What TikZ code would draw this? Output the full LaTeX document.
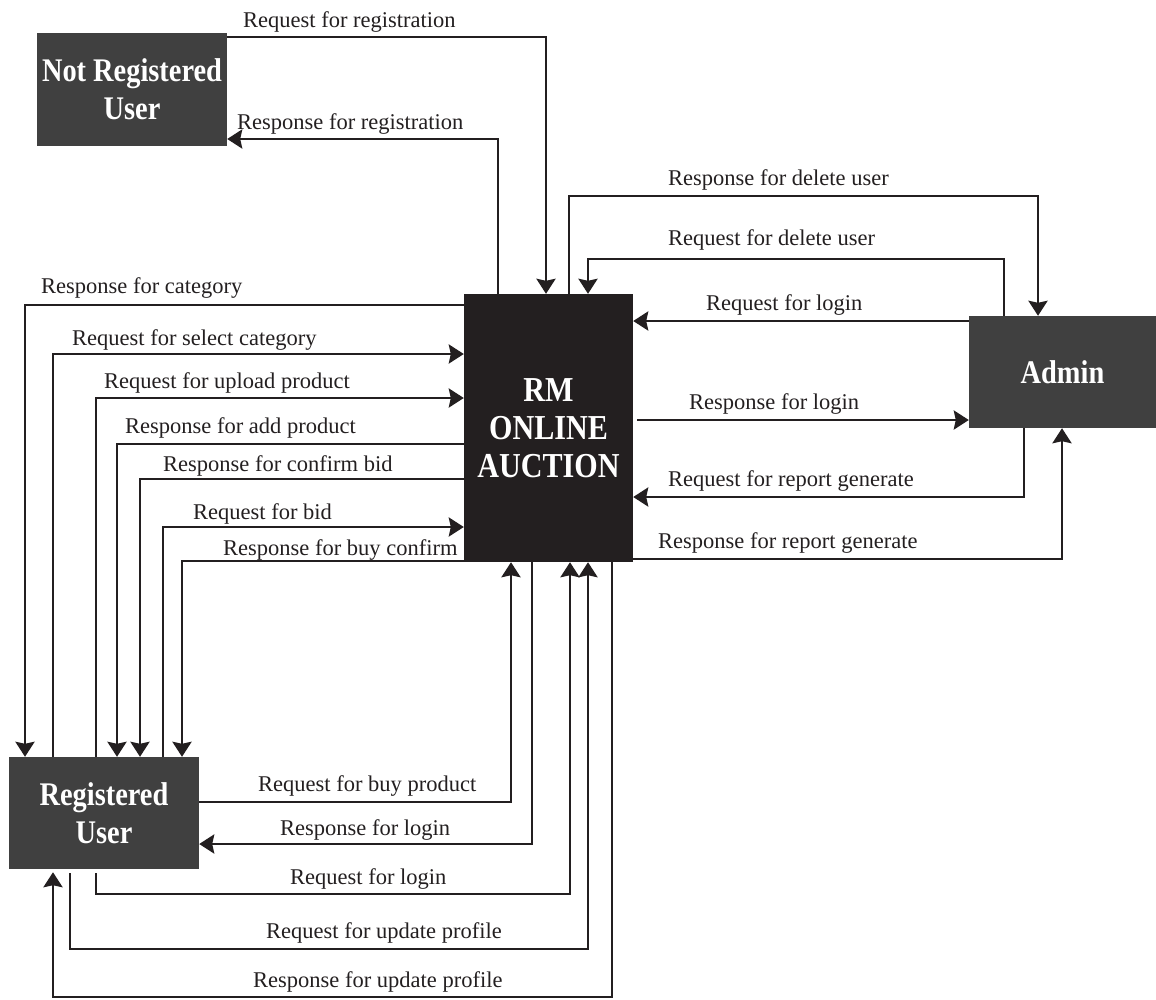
\documentclass[tikz,border=0pt]{standalone}
\usepackage{fontspec}
\setmainfont{Liberation Serif}
\newfontface\boxfont[FakeStretch=0.86]{Liberation Serif Bold}
\usetikzlibrary{arrows.meta}
\definecolor{ink}{HTML}{231F20}
\definecolor{boxgray}{HTML}{404040}

\begin{document}
\begin{tikzpicture}[x=1pt,y=-1pt,
  entity/.style={fill=boxgray, text=white, inner sep=0pt, align=center,
    font=\boxfont\fontsize{33}{38}\selectfont},
  process/.style={fill=ink, text=white, inner sep=0pt, align=center,
    font=\boxfont\fontsize{35}{38}\selectfont},
  flow/.style={draw=ink, line width=2.9pt,
    -{Stealth[length=15pt,width=19pt,inset=2pt]}},
  lbl/.style={anchor=base west, inner sep=0pt, text=ink,
    font=\fontsize{22.5}{27}\selectfont}]

\useasboundingbox (0,0) rectangle (1156,999);

% external entities and the central process
\node[entity, minimum width=190pt, minimum height=113pt] (nru) at (132,89.5) {Not Registered\\User};
\node[process, minimum width=169pt, minimum height=268pt] (rm) at (548.5,428) {RM\\ONLINE\\AUCTION};
\node[entity, minimum width=187pt, minimum height=112pt] (admin) at (1062.5,372) {Admin};
\node[entity, minimum width=190pt, minimum height=112pt] (ru) at (104,813) {Registered\\User};

% not registered user
\draw[flow] (nru.east |- 0,37) -| (rm.north -| 546,0);
\draw[flow] (rm.north -| 498,0) |- (nru.east |- 0,139);
\node[lbl] (l1) at (243,27) {Request for registration};
\node[lbl] (l2) at (237,129) {Response for registration};

% admin
\draw[flow] (rm.north -| 569,0) -- (569,196) -| (admin.north -| 1038,0);
\draw[flow] (admin.north -| 1004,0) -- (1004,259) -| (rm.north -| 588,0);
\draw[flow] (admin.west |- 0,321) -- (rm.east |- 0,321);
\draw[flow, shorten <=4pt] (rm.east |- 0,420) -- (admin.west |- 0,420);
\draw[flow] (admin.south -| 1024,0) |- (rm.east |- 0,497);
\draw[flow] (rm.east |- 0,559) -| (admin.south -| 1062,0);
\node[lbl] (l3) at (668,185) {Response for delete user};
\node[lbl] (l4) at (668,245) {Request for delete user};
\node[lbl] (l5) at (706,310) {Request for login};
\node[lbl] (l6) at (689,409) {Response for login};
\node[lbl] (l7) at (668,486) {Request for report generate};
\node[lbl] (l8) at (658,548) {Response for report generate};

% registered user, left side
\draw[flow] (rm.west |- 0,305) -| (ru.north -| 25,0);
\draw[flow] (ru.north -| 53,0) |- (rm.west |- 0,354);
\draw[flow] (ru.north -| 96,0) |- (rm.west |- 0,398);
\draw[flow] (rm.west |- 0,444) -| (ru.north -| 117,0);
\draw[flow] (rm.west |- 0,479) -| (ru.north -| 140,0);
\draw[flow] (ru.north -| 163,0) |- (rm.west |- 0,527);
\draw[flow] (rm.west |- 0,561) -| (ru.north -| 182,0);
\node[lbl] (l9) at (41,293) {Response for category};
\node[lbl] (l10) at (72,345) {Request for select category};
\node[lbl] (l11) at (104,388) {Request for upload product};
\node[lbl] (l12) at (125,433) {Response for add product};
\node[lbl] (l13) at (163,471) {Response for confirm bid};
\node[lbl] (l14) at (193,519) {Request for bid};
\node[lbl] (l15) at (223,555) {Response for buy confirm};

% registered user, bottom
\draw[flow] (ru.east |- 0,802) -| (rm.south -| 511,0);
\draw[flow] (rm.south -| 532,0) |- (ru.east |- 0,844);
\draw[flow, shorten <=4pt] (ru.south -| 96,0) -- (96,894) -| (rm.south -| 570,0);
\draw[flow, shorten <=4pt] (ru.south -| 70,0) -- (70,949) -| (rm.south -| 588,0);
\draw[flow, shorten >=3pt] (rm.south -| 612,0) -- (612,997) -| (ru.south -| 53,0);
\node[lbl] (l16) at (258,791) {Request for buy product};
\node[lbl] (l17) at (280,835) {Response for login};
\node[lbl] (l18) at (290,884) {Request for login};
\node[lbl] (l19) at (266,938) {Request for update profile};
\node[lbl] (l20) at (253,987) {Response for update profile};
\end{tikzpicture}
\end{document}
